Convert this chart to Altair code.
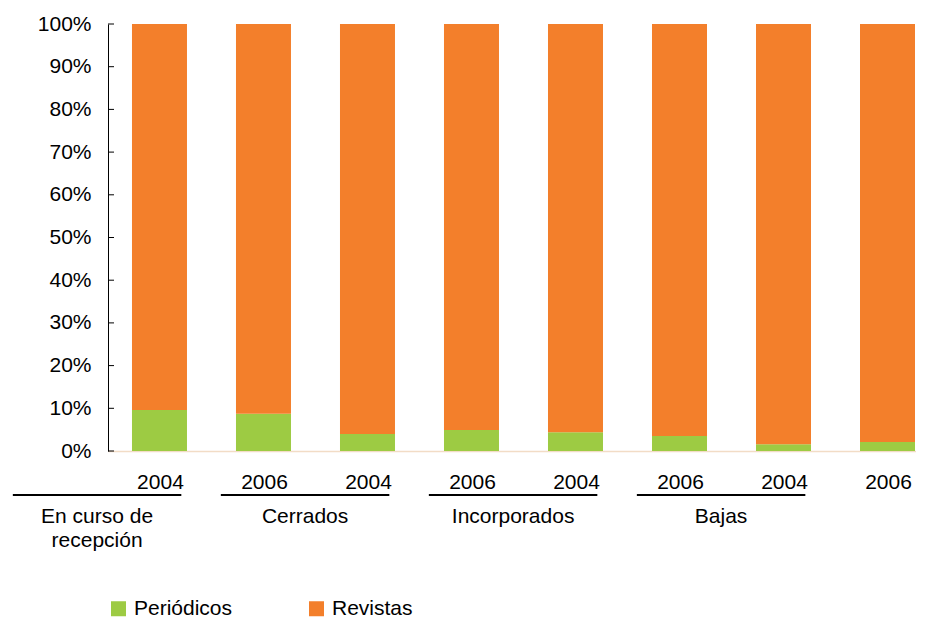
import altair as alt
import pandas as pd

# ---- data ----
years = ["2004", "2006", "2004", "2006", "2004", "2006", "2004", "2006"]
periodicos = [9.6, 8.7, 4.0, 4.9, 4.4, 3.5, 1.6, 2.1]
revistas = [90.4, 91.3, 96.0, 95.1, 95.6, 96.5, 98.4, 97.9]
groups = ["En curso de\nrecepción", "Cerrados", "Incorporados", "Bajas"]
series = ["Periódicos", "Revistas"]
colors = ["#9dcb43", "#f37f2b"]
y_ticks = [0, 10, 20, 30, 40, 50, 60, 70, 80, 90, 100]

FONT = "Liberation Sans"
FS = 21

rows = []
for i, (y, p, r) in enumerate(zip(years, periodicos, revistas)):
    rows.append({"idx": i, "year": y, "serie": series[0], "value": p, "ord": 0})
    rows.append({"idx": i, "year": y, "serie": series[1], "value": r, "ord": 1})
bars_df = pd.DataFrame(rows)

years_df = pd.DataFrame({"idx": list(range(len(years))), "year": years})

# Excel's shifted multi-level category labels (each group spans two bars)
grp_rows = []
for g, name in enumerate(groups):
    c = 2 * g - 0.6
    grp_rows.append({"label": name, "c": c, "x0": c - 0.81, "x1": c + 0.81})
groups_df = pd.DataFrame(grp_rows)

ticks_df = pd.DataFrame({"t": y_ticks})

xscale = alt.Scale(domain=[-0.495, 7.274], nice=False, zero=False, padding=0)
yscale = alt.Scale(domain=[0, 100], nice=False, padding=0)

bars = alt.Chart(bars_df).mark_bar(size=55).encode(
    x=alt.X("idx:Q", scale=xscale,
            axis=alt.Axis(labels=False, ticks=False, grid=False, title=None,
                          domainColor="#f2dcc6", domainWidth=1.5)),
    y=alt.Y("value:Q", stack="zero", scale=yscale,
            axis=alt.Axis(values=y_ticks, labelExpr="datum.value + '%'",
                          ticks=False, labelPadding=17, grid=False, title=None,
                          domainColor="#000000", domainWidth=1,
                          labelFont=FONT, labelFontSize=FS, labelColor="#000000")),
    color=alt.Color("serie:N",
                    scale=alt.Scale(domain=series, range=colors),
                    legend=alt.Legend(orient="none", legendX=0, legendY=574,
                                      direction="horizontal", title=None,
                                      symbolType="square", symbolSize=225,
                                      symbolStrokeWidth=0, labelFont=FONT,
                                      labelFontSize=FS, labelColor="#000000",
                                      columnPadding=73, labelOffset=5, padding=0)),
    order=alt.Order("ord:Q"),
)

yticks = alt.Chart(ticks_df).mark_rule(color="#000000", strokeWidth=1).encode(
    y=alt.Y("t:Q", scale=yscale),
    x=alt.value(0),
    x2=alt.value(6),
)

year_text = alt.Chart(years_df).mark_text(
    font=FONT, fontSize=FS, color="#000000", baseline="middle", align="center", dx=1
).encode(
    x=alt.X("idx:Q", scale=xscale),
    y=alt.value(459),
    text="year:N",
)

grp_lines = alt.Chart(groups_df).mark_rule(color="#000000", strokeWidth=2).encode(
    x=alt.X("x0:Q", scale=xscale),
    x2="x1:Q",
    y=alt.value(471),
)

grp_text = alt.Chart(groups_df).mark_text(
    font=FONT, fontSize=FS, color="#000000", baseline="alphabetic",
    align="center", lineBreak="\n", lineHeight=24
).encode(
    x=alt.X("c:Q", scale=xscale),
    y=alt.value(499),
    text="label:N",
)

chart = alt.layer(bars, yticks, year_text, grp_lines, grp_text).properties(
    width=808,
    height=427,
    padding={"left": 100, "top": 16, "right": 0, "bottom": 167},
    autosize=alt.AutoSizeParams(type="none"),
).configure_view(stroke=None)

chart.save("out.html", embed_options={"renderer": "svg", "actions": False})
